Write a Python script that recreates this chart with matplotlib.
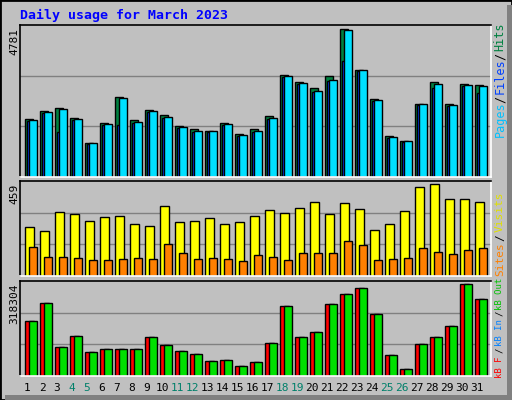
import matplotlib
matplotlib.use("Agg")
import matplotlib.pyplot as plt
from matplotlib.patches import Rectangle

days = list(range(1, 32))
weekend = [4, 5, 11, 12, 18, 19, 25, 26]
hits = [1824,2076,2170,1856,1069,1698,2516,1793,2107,1950,1604,1510,1447,1698,1352,1510,
        1918,3208,2988,2799,3176,4655,3365,2453,1289,1132,2296,2988,2296,2925,2893]
files = [1793,2044,2139,1824,1069,1667,2485,1730,2076,1887,1573,1447,1447,1667,1321,1447,
         1856,3176,2956,2705,3051,4623,3365,2422,1258,1132,2296,2925,2264,2893,2862]
pages = [1760,2010,1415,1790,1040,1630,1635,1700,2040,1850,1540,1420,1420,1630,1290,1420,
         1820,3140,2920,2660,3010,3648,3330,2390,1230,1100,2260,2799,2230,2860,2642]
visits = [235,216,308,298,264,283,288,250,240,336,259,264,279,250,259,288,
          317,303,327,356,298,351,322,221,250,312,428,443,370,370,356]
sites = [138,90,90,85,76,76,80,85,80,153,109,80,85,80,71,100,
         90,76,109,109,109,167,148,76,80,85,134,114,105,124,134]
kb_out = [182690,243214,98630,135617,81818,91906,91906,91906,132254,105355,85181,75094,51557,54919,34745,48194,
          112080,233126,132254,149066,239851,273475,293650,206227,71731,24658,108718,132254,165878,307099,256663]
kb_f = kb_out
max_hits, max_visits, max_kb = 4781, 459, 318304

W, H = 512, 400
fig = plt.figure(figsize=(W/100, H/100), dpi=100)
fig.patch.set_facecolor('#C0C0C0')
fig.add_artist(Rectangle((0, 0), 1, 1, transform=fig.transFigure, fill=False, ec='black', lw=2))
fig.add_artist(Rectangle((507/W, 0), 5/W, 1-5/H, transform=fig.transFigure, fc='#808080', ec='none'))
fig.add_artist(Rectangle((5/W, 0), 1-5/W, 5/H, transform=fig.transFigure, fc='#808080', ec='none'))

def mkax(top, bot):
    ax = fig.add_axes([20/W, (H-bot)/H, 471/W, (bot-top)/H])
    ax.set_facecolor('#C0C0C0')
    ax.set_xlim(0.4, 0.4 + 471/15)
    for s in ['top', 'left']:
        ax.spines[s].set_color('black')
    for s in ['bottom', 'right']:
        ax.spines[s].set_color('white')
    for s in ax.spines.values():
        s.set_linewidth(1.2)
    ax.set_xticks([]); ax.set_yticks([])
    return ax

def grid(ax, m):
    ax.set_ylim(0, m)
    for f in (1/3, 2/3):
        ax.axhline(m*f, color='#808080', lw=1, zorder=0)

kw = dict(edgecolor='black', linewidth=1, align='edge', zorder=2)
ax1 = mkax(25, 177)
grid(ax1, max_hits)
ax1.bar([d - 0.27 for d in days], hits, width=0.55, color='#008040', **kw)
ax1.bar([d - 0.13 for d in days], pages, width=0.3, color='#0040FF', **kw)
ax1.bar([d - 0.03 for d in days], files, width=0.54, color='#00E0FF', **kw)

ax2 = mkax(181, 276)
grid(ax2, max_visits)
ax2.bar([d - 0.27 for d in days], visits, width=0.58, color='#FFFF00', **kw)
ax2.bar([d + 0.02 for d in days], sites, width=0.49, color='#FF8000', **kw)

ax3 = mkax(281, 376)
grid(ax3, max_kb)
ax3.bar([d - 0.27 for d in days], kb_f, width=0.58, color='#FF0000', **kw)
ax3.bar([d + 0.02 for d in days], kb_out, width=0.49, color='#00E000', **kw)
for d in days:
    ax3.text(d - 0.13, -12/95*max_kb, str(d), ha='center', va='center', fontsize=8,
             family='DejaVu Sans Mono', color='#00806A' if d in weekend else 'black', clip_on=False)

mono = 'DejaVu Sans Mono'
fig.text(20/W, 1-15/H, 'Daily usage for March 2023', color='#0000FF', fontsize=9.5,
         family=mono, fontweight='bold', va='center', ha='left')
for y, lab in [(25, '4781'), (181, '459'), (281, '318304')]:
    fig.text(14/W, 1-(y+3)/H, lab, rotation=90, fontsize=8, family=mono, ha='center', va='top')

def rlabel(pieces, fs):
    for y, t, c in pieces:
        fig.text(500/W, 1-y/H, t, rotation=90, color=c, fontsize=fs, family=mono,
                 ha='center', va='bottom')
rlabel([(137, 'Pages', '#00C0FF'), (103, '/', 'black'), (94, 'Files', '#0040FF'),
        (60, '/', 'black'), (51, 'Hits', '#008040')], 8.5)
rlabel([(276, 'Sites', '#FF8000'), (241, '/', 'black'), (232, 'Visits', '#E0E000')], 8)
rlabel([(378, 'kB F', '#FF0000'), (353, '/', 'black'), (346, 'kB In', '#0080FF'),
        (316, '/', 'black'), (310, 'kB Out', '#00C000')], 6.5)

fig.savefig('out.png', dpi=100, facecolor=fig.get_facecolor())
